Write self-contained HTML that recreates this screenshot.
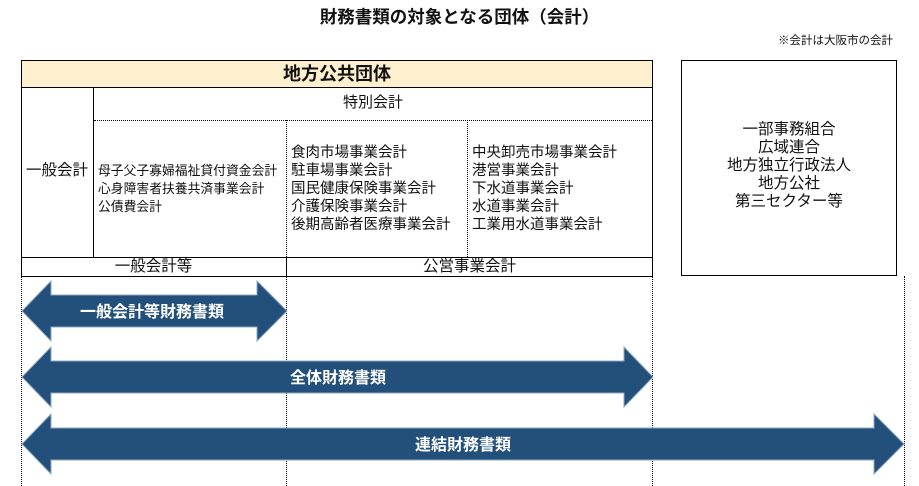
<!DOCTYPE html>
<html><head><meta charset="utf-8"><style>
body{margin:0;width:919px;height:486px;background:#fff;position:relative;overflow:hidden;font-family:"Liberation Sans","Noto Sans CJK JP",sans-serif;color:#111}
.a{position:absolute;white-space:nowrap}
.l{position:absolute;background:#000}
.t{font-size:14.5px;line-height:18px}
</style></head><body>
<div class="a" style="left:0;width:919px;top:4px;text-align:center;font-size:17.5px;font-weight:bold;line-height:26px">財務書類の対象となる団体（会計）</div>
<div class="a" style="right:26px;top:33px;font-size:11.5px;line-height:16px">※会計は大阪市の会計</div>

<div class="a" style="left:21px;top:60px;width:630px;height:26px;background:#FEF0CE;border:1px solid #000"></div>
<div class="a" style="left:21px;top:60px;width:632px;text-align:center;font-size:18px;font-weight:bold;line-height:28px">地方公共団体</div>
<div class="a" style="left:21px;top:60px;width:630px;height:215px;border:1px solid #000"></div>
<div class="l" style="left:93px;top:87px;width:1px;height:170px"></div>
<div class="a" style="left:94px;top:120px;width:558px;border-top:1px dotted #000"></div>
<div class="a" style="left:286px;top:120px;height:137px;border-left:1px dotted #000"></div>
<div class="a" style="left:467px;top:120px;height:137px;border-left:1px dotted #000"></div>
<div class="l" style="left:21px;top:257px;width:632px;height:1px"></div>
<div class="l" style="left:286px;top:257px;width:1px;height:19px"></div>
<div class="a t" style="left:94px;width:558px;top:94px;text-align:center;font-size:15px">特別会計</div>
<div class="a t" style="left:26px;top:162px;font-size:15.5px">一般会計</div>
<div class="a t" style="left:98px;top:162px;font-size:12.8px">母子父子寡婦福祉貸付資金会計<br>心身障害者扶養共済事業会計<br>公債費会計</div>
<div class="a t" style="left:291px;top:144px">食肉市場事業会計<br>駐車場事業会計<br>国民健康保険事業会計<br>介護保険事業会計<br>後期高齢者医療事業会計</div>
<div class="a t" style="left:472px;top:144px">中央卸売市場事業会計<br>港営事業会計<br>下水道事業会計<br>水道事業会計<br>工業用水道事業会計</div>
<div class="a t" style="left:21px;width:265px;top:258px;text-align:center;font-size:15.5px">一般会計等</div>
<div class="a t" style="left:287px;width:365px;top:258px;text-align:center;font-size:15.5px">公営事業会計</div>

<div class="a" style="left:681px;top:60px;width:214px;height:214px;border:1px solid #000"></div>
<div class="a t" style="left:681px;width:216px;top:121px;text-align:center;font-size:15.5px">一部事務組合<br>広域連合<br>地方独立行政法人<br>地方公社<br>第三セクター等</div>

<div class="a" style="left:21px;top:276px;height:210px;border-left:1px dotted #000"></div>
<div class="a" style="left:286px;top:276px;height:210px;border-left:1px dotted #000"></div>
<div class="a" style="left:652px;top:276px;height:210px;border-left:1px dotted #000"></div>
<div class="a" style="left:904px;top:276px;height:210px;border-left:1px dotted #000"></div>

<svg class="a" style="left:0;top:0" width="919" height="486">
<g fill="#22507A" stroke="#8FA8C4" stroke-width="1">
<polygon points="22,311 51,281 51,295 257,295 257,281 287,311 257,341 257,327 51,327 51,341"/>
<polygon points="22,377 51,347 51,361 624,361 624,347 653,377 624,407 624,393 51,393 51,407"/>
<polygon points="22,444 51,414 51,428 874,428 874,414 904,444 874,474 874,460 51,460 51,474"/>
</g>
<g fill="#fff" font-size="16" font-weight="bold" text-anchor="middle" font-family="Liberation Sans, Noto Sans CJK JP, sans-serif">
<text x="152" y="317">一般会計等財務書類</text>
<text x="338" y="383">全体財務書類</text>
<text x="463" y="450">連結財務書類</text>
</g>
</svg>
</body></html>
